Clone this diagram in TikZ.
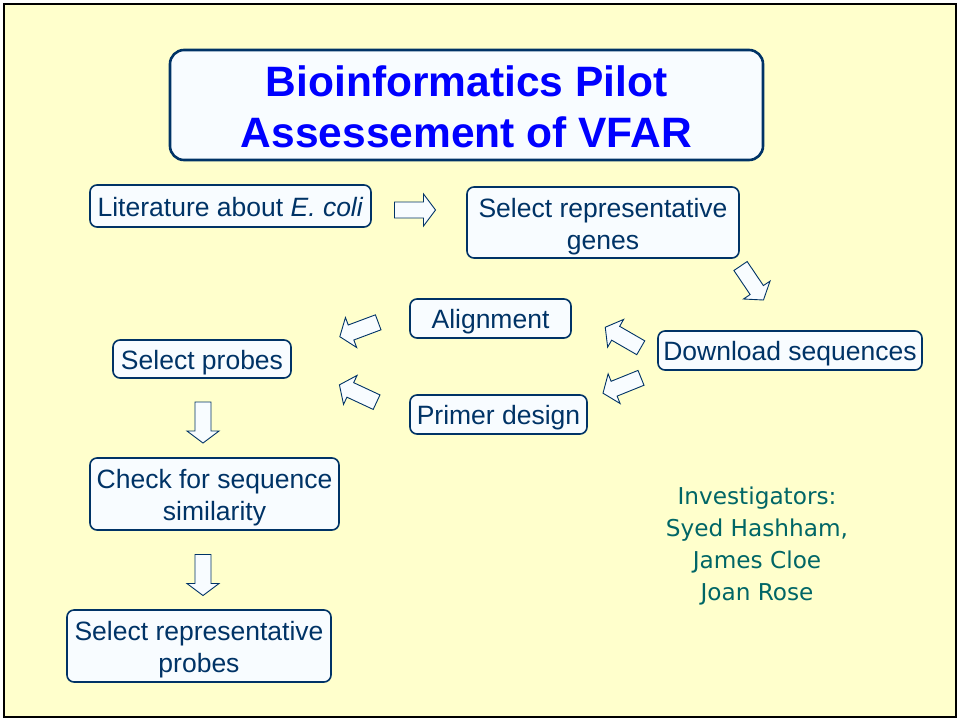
\documentclass[tikz,border=0pt]{standalone}
\usepackage{fontspec}
\setmainfont{Liberation Sans}
\newfontfamily\investfont{DejaVu Sans}
\definecolor{slidebg}{HTML}{FFFFCC}
\definecolor{navy}{HTML}{003366}
\definecolor{boxfill}{HTML}{F8FCFF}
\definecolor{titleblue}{HTML}{0000FF}
\definecolor{teal}{HTML}{006666}
% invisible strut that lowers the first line of a multi-line label
\newcommand{\toppad}[1]{\rule{0pt}{#1}}
\tikzset{
  stepbox/.style={draw=navy, line width=1.6pt, rounded corners=7pt, fill=boxfill,
    text=navy, font=\fontsize{26.5}{32}\selectfont, align=center, inner sep=0pt},
  oneline/.style={stepbox, text height=22pt, text depth=2pt},
  twoline/.style={stepbox},
  titlebox/.style={draw=navy, line width=2.6pt, rounded corners=14pt, fill=boxfill,
    text=titleblue, font=\fontsize{42.5}{51}\selectfont\bfseries, align=center,
    inner sep=0pt},
  arrowstyle/.style={draw=navy, fill=boxfill, line width=0.9pt, line join=miter},
  blockarrow/.pic={\draw[arrowstyle] (-20.5,-8) -- (8.5,-8) -- (8.5,-16) -- (20.5,0)
    -- (8.5,16) -- (8.5,8) -- (-20.5,8) -- cycle;}
}
\begin{document}
\begin{tikzpicture}[x=1pt, y=-1pt]
  % page and frame
  \useasboundingbox (0,0) rectangle (960,721);
  \fill[white] (0,0) rectangle (960,721);
  \fill[slidebg] (4,4) rectangle (956,717);
  \draw[black, line width=2.6pt] (4,4) rectangle (956,717);

  % title
  \node[titlebox, minimum width=593pt, minimum height=110pt] (title) at (466.5,105)
    {\toppad{35pt}Bioinformatics Pilot\\Assessement of VFAR};

  % workflow steps
  \node[oneline, minimum width=281pt, minimum height=42pt] (lit) at (230.5,206)
    {Literature about \textit{E. coli}};
  \node[twoline, minimum width=272pt, minimum height=71pt] (genes) at (603,222.5)
    {\toppad{27pt}Select representative\\genes};
  \node[oneline, minimum width=264pt, minimum height=39pt] (download) at (790,350.5)
    {Download sequences};
  \node[oneline, minimum width=161pt, minimum height=39pt] (align) at (490.5,318.5)
    {Alignment};
  \node[oneline, minimum width=177pt, minimum height=39pt] (primer) at (498.5,414.5)
    {Primer design};
  \node[oneline, minimum width=178pt, minimum height=38pt] (probes) at (202,359)
    {Select probes};
  \node[twoline, minimum width=249pt, minimum height=72pt] (check) at (214.5,494)
    {\toppad{27pt}Check for sequence\\similarity};
  \node[twoline, minimum width=264pt, minimum height=72pt] (repprobes) at (199,646)
    {\toppad{27pt}Select representative\\probes};

  % block arrows between the steps
  \pic[rotate=0] at (415,210) {blockarrow};
  \pic[rotate=-56] at (752,283) {blockarrow};
  \pic[rotate=150] at (623,337.5) {blockarrow};
  \pic[rotate=202] at (622,385.5) {blockarrow};
  \pic[rotate=200.5] at (359,329.5) {blockarrow};
  \pic[rotate=155] at (358,393.5) {blockarrow};
  \pic[rotate=-90] at (203,422.5) {blockarrow};
  \pic[rotate=-90] at (203,575) {blockarrow};

  % investigators
  \node[text=teal, font=\investfont\fontsize{23.2}{31.8}\selectfont, align=center,
    inner sep=0pt] (invest) at (757,546)
    {Investigators:\\Syed Hashham,\\James Cloe\\Joan Rose};
\end{tikzpicture}
\end{document}
